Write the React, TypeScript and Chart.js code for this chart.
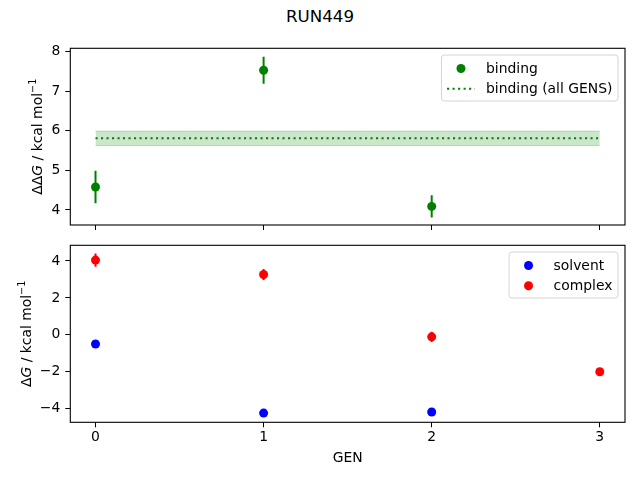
import { useEffect, useRef } from 'react'
import { Chart, registerables } from 'chart.js'

Chart.register(...registerables)

// GEN axis
const xTicks = [0, 1, 2, 3]
const xMin = -0.15
const xMax = 3.15

// top panel: binding free energy per GEN
const bindingGens = [0, 1, 2]
const bindingValues = [4.58, 7.53, 4.09]
const bindingErrors = [0.41, 0.34, 0.28]
const bindingAllGens = [0, 3]
const bindingMean = 5.81
const bindingMeanErr = 0.185
const topTicks = [4, 5, 6, 7, 8]
const topMin = 3.62
const topMax = 8.085

// bottom panel: solvent / complex legs
const solventGens = [0, 1, 2]
const solventValues = [-0.5, -4.24, -4.18]
const solventErrors = [0.04, 0.05, 0.05]
const complexGens = [0, 1, 2, 3]
const complexValues = [4.05, 3.27, -0.11, -2.0]
const complexErrors = [0.36, 0.3, 0.28, 0.15]
const bottomTicks = [-4, -2, 0, 2, 4]
const bottomMin = -4.74
const bottomMax = 4.85

const FONT = "'DejaVu Sans', sans-serif"
const FS = 13.9
const GREEN = '#008000'

type Run = { text: string; italic?: boolean; sup?: boolean }
type LegendItem = { label: string; color: string; kind: 'dot' | 'dotted' }

const minus = (v: number | string) => String(v).replace('-', '\u2212')

// y label with italic G and superscript -1
function richYLabel(runs: Run[], baselineX: number) {
  return {
    id: 'richYLabel',
    afterDraw(chart: Chart) {
      const { ctx, chartArea } = chart
      const fontFor = (r: Run) =>
        `${r.italic ? 'italic ' : ''}${r.sup ? FS * 0.7 : FS}px ${FONT}`
      ctx.save()
      let total = 0
      const widths = runs.map((r) => {
        ctx.font = fontFor(r)
        const w = ctx.measureText(r.text).width
        total += w
        return w
      })
      ctx.translate(baselineX, (chartArea.top + chartArea.bottom) / 2)
      ctx.rotate(-Math.PI / 2)
      ctx.fillStyle = '#000'
      ctx.textBaseline = 'alphabetic'
      let x = -total / 2
      runs.forEach((r, i) => {
        ctx.font = fontFor(r)
        ctx.fillText(r.text, x, r.sup ? -FS * 0.45 : 0)
        x += widths[i]
      })
      ctx.restore()
    },
  }
}

// matplotlib-like legend box in the upper right of the axes
function boxLegend(items: LegendItem[]) {
  return {
    id: 'boxLegend',
    afterDraw(chart: Chart) {
      const { ctx, chartArea } = chart
      ctx.save()
      ctx.font = `${FS}px ${FONT}`
      const tw = Math.max(...items.map((it) => ctx.measureText(it.label).width))
      const w = 5.6 + 27.8 + 11.1 + tw + 5.6
      const h = 46
      const left = chartArea.right - 7 - w
      const top = chartArea.top + 6.7
      ctx.beginPath()
      ctx.roundRect(left, top, w, h, 3)
      ctx.fillStyle = 'rgba(255,255,255,0.8)'
      ctx.fill()
      ctx.strokeStyle = '#d4d4d4'
      ctx.lineWidth = 1
      ctx.stroke()
      items.forEach((it, i) => {
        const cy = top + 13.5 + i * 20.3
        if (it.kind === 'dot') {
          ctx.beginPath()
          ctx.arc(left + 19.5, cy, 4.5, 0, Math.PI * 2)
          ctx.fillStyle = it.color
          ctx.fill()
        } else {
          ctx.beginPath()
          ctx.setLineDash([2.1, 3.4])
          ctx.moveTo(left + 5.6, cy)
          ctx.lineTo(left + 33.4, cy)
          ctx.strokeStyle = it.color
          ctx.lineWidth = 2
          ctx.stroke()
          ctx.setLineDash([])
        }
        ctx.fillStyle = '#000'
        ctx.textBaseline = 'alphabetic'
        ctx.fillText(it.label, left + 44.5, cy + 4)
      })
      ctx.restore()
    },
  }
}

// full box around the axes
const frame = {
  id: 'frame',
  afterDraw(chart: Chart) {
    const { ctx, chartArea: a } = chart
    ctx.save()
    ctx.strokeStyle = '#000'
    ctx.lineWidth = 1.1
    ctx.strokeRect(a.left, a.top, a.right - a.left, a.bottom - a.top)
    ctx.restore()
  },
}

// vertical error bars, no caps
const errorBars = {
  id: 'errorBars',
  beforeDatasetsDraw(chart: Chart) {
    const { ctx } = chart
    const xs = chart.scales.x
    const ys = chart.scales.y
    ctx.save()
    ctx.beginPath()
    ctx.rect(chart.chartArea.left, chart.chartArea.top, chart.chartArea.width, chart.chartArea.height)
    ctx.clip()
    chart.data.datasets.forEach((ds: any) => {
      if (!ds.errors) return
      ctx.strokeStyle = ds.backgroundColor
      ctx.lineWidth = 2
      ds.data.forEach((p: { x: number; y: number }, i: number) => {
        const px = xs.getPixelForValue(p.x)
        ctx.beginPath()
        ctx.moveTo(px, ys.getPixelForValue(p.y - ds.errors[i]))
        ctx.lineTo(px, ys.getPixelForValue(p.y + ds.errors[i]))
        ctx.stroke()
      })
    })
    ctx.restore()
  },
}

const tickFont = { family: FONT, size: FS }

function xScale(showLabels: boolean, height: number) {
  return {
    type: 'linear' as const,
    min: xMin,
    max: xMax,
    afterBuildTicks: (s: any) => {
      s.ticks = xTicks.map((v) => ({ value: v }))
    },
    afterFit: (s: any) => {
      s.height = height
      s.paddingLeft = 0
      s.paddingRight = 0
    },
    border: { display: false },
    grid: { drawOnChartArea: false, drawTicks: true, tickLength: 5, color: '#000', lineWidth: 1 },
    ticks: { display: showLabels, color: '#000', font: tickFont, padding: 2, maxRotation: 0 },
    title: {
      display: showLabels,
      text: 'GEN',
      color: '#000',
      font: tickFont,
      padding: { top: 0, bottom: 13 },
    },
  }
}

function yScale(min: number, max: number, ticks: number[]) {
  return {
    type: 'linear' as const,
    min,
    max,
    afterBuildTicks: (s: any) => {
      s.ticks = ticks.map((v) => ({ value: v }))
    },
    afterFit: (s: any) => {
      s.width = 70.3
      s.paddingTop = 0
      s.paddingBottom = 0
    },
    border: { display: false },
    grid: { drawOnChartArea: false, drawTicks: true, tickLength: 5, color: '#000', lineWidth: 1 },
    ticks: { color: '#000', font: tickFont, padding: 5, callback: (v: number) => minus(v) },
  }
}

const pts = (xs: number[], ys: number[]) => xs.map((x, i) => ({ x, y: ys[i] }))

export default function App() {
  const topRef = useRef<HTMLCanvasElement>(null)
  const botRef = useRef<HTMLCanvasElement>(null)

  useEffect(() => {
    if (!topRef.current || !botRef.current) return

    const top = new Chart(topRef.current, {
      type: 'scatter',
      data: {
        datasets: [
          {
            type: 'line',
            data: bindingAllGens.map((x) => ({ x, y: bindingMean - bindingMeanErr })),
            borderColor: 'rgba(0,128,0,0.2)',
            borderWidth: 1,
            pointRadius: 0,
            fill: false,
            order: 5,
          },
          {
            type: 'line',
            data: bindingAllGens.map((x) => ({ x, y: bindingMean + bindingMeanErr })),
            borderColor: 'rgba(0,128,0,0.2)',
            backgroundColor: 'rgba(0,128,0,0.2)',
            borderWidth: 1,
            pointRadius: 0,
            fill: '-1',
            order: 4,
          },
          {
            type: 'line',
            data: bindingAllGens.map((x) => ({ x, y: bindingMean })),
            borderColor: GREEN,
            borderDash: [2.1, 3.4],
            borderWidth: 2,
            pointRadius: 0,
            fill: false,
            order: 3,
          },
          {
            data: pts(bindingGens, bindingValues),
            backgroundColor: GREEN,
            borderColor: GREEN,
            pointRadius: 4.5,
            borderWidth: 0,
            errors: bindingErrors,
            order: 1,
          } as any,
        ],
      },
      options: {
        animation: false,
        responsive: false,
        layout: { padding: { top: 48.3, right: 15, left: 0, bottom: 0 } },
        plugins: { legend: { display: false }, tooltip: { enabled: false } },
        scales: {
          x: xScale(false, 15),
          y: yScale(topMin, topMax, topTicks),
        },
      },
      plugins: [
        errorBars,
        frame,
        richYLabel(
          [{ text: '\u0394\u0394' }, { text: 'G', italic: true }, { text: ' / kcal mol' }, { text: '\u22121', sup: true }],
          42
        ),
        boxLegend([
          { label: 'binding', color: GREEN, kind: 'dot' },
          { label: 'binding (all GENS)', color: GREEN, kind: 'dotted' },
        ]),
      ],
    })

    const bottom = new Chart(botRef.current, {
      type: 'scatter',
      data: {
        datasets: [
          {
            data: pts(solventGens, solventValues),
            backgroundColor: '#0000ff',
            borderColor: '#0000ff',
            pointRadius: 4.5,
            borderWidth: 0,
            errors: solventErrors,
          } as any,
          {
            data: pts(complexGens, complexValues),
            backgroundColor: '#ff0000',
            borderColor: '#ff0000',
            pointRadius: 4.5,
            borderWidth: 0,
            errors: complexErrors,
          } as any,
        ],
      },
      options: {
        animation: false,
        responsive: false,
        layout: { padding: { top: 5.3, right: 15, left: 0, bottom: 0 } },
        plugins: { legend: { display: false }, tooltip: { enabled: false } },
        scales: {
          x: xScale(true, 57.7),
          y: yScale(bottomMin, bottomMax, bottomTicks),
        },
      },
      plugins: [
        errorBars,
        frame,
        richYLabel([{ text: '\u0394' }, { text: 'G', italic: true }, { text: ' / kcal mol' }, { text: '\u22121', sup: true }], 31),
        boxLegend([
          { label: 'solvent', color: '#0000ff', kind: 'dot' },
          { label: 'complex', color: '#ff0000', kind: 'dot' },
        ]),
      ],
    })

    return () => {
      top.destroy()
      bottom.destroy()
    }
  }, [])

  return (
    <div
      style={{
        position: 'absolute',
        left: 0,
        top: 0,
        width: 640,
        height: 480,
        background: '#fff',
        fontFamily: FONT,
      }}
    >
      <div
        style={{
          position: 'absolute',
          top: 6,
          left: 0,
          width: 640,
          textAlign: 'center',
          fontSize: 16.7,
          lineHeight: '20px',
          color: '#000',
        }}
      >
        RUN449
      </div>
      <canvas ref={topRef} width={640} height={240} style={{ position: 'absolute', left: 0, top: 0 }} />
      <canvas ref={botRef} width={640} height={240} style={{ position: 'absolute', left: 0, top: 240 }} />
    </div>
  )
}
